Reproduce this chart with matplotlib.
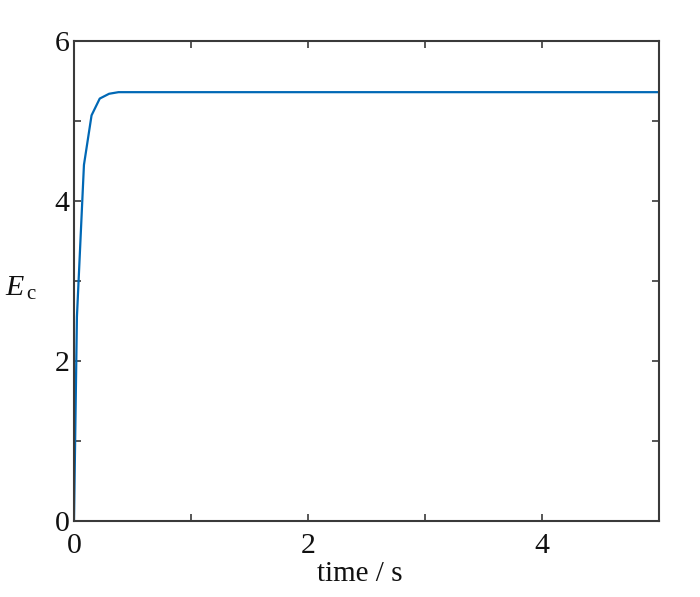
import matplotlib
matplotlib.use("Agg")
import matplotlib.pyplot as plt

time_s = [0, 0.025, 0.085, 0.15, 0.22, 0.30, 0.38, 0.5, 1, 2, 3, 4, 5]
E_c = [0, 2.55, 4.45, 5.07, 5.28, 5.34, 5.36, 5.36, 5.36, 5.36, 5.36, 5.36, 5.36]
x_ticks = [0, 1, 2, 3, 4, 5]
x_labels = ["0", "", "2", "", "4", ""]
y_ticks = [0, 1, 2, 3, 4, 5, 6]
y_labels = ["0", "", "2", "", "4", "", "6"]

plt.rcParams['font.family'] = ['Liberation Serif', 'DejaVu Serif']
plt.rcParams['mathtext.fontset'] = 'custom'
plt.rcParams['mathtext.rm'] = 'Liberation Serif'
plt.rcParams['mathtext.it'] = 'Liberation Serif:italic'

fig = plt.figure(figsize=(7.0, 5.97), dpi=100)
ax = fig.add_axes([74/700, (597-520.7)/597, (659-74)/700, (520.7-41)/597])
ax.plot(time_s, E_c, color='#0068B5', lw=1.6)
ax.set_xlim(0, 5)
ax.set_ylim(0, 6)
ax.set_xticks(x_ticks)
ax.set_xticklabels(x_labels)
ax.set_yticks(y_ticks)
ax.set_yticklabels(y_labels)
for s in ax.spines.values():
    s.set_color('#3a3a3a')
    s.set_linewidth(1.5)
ax.tick_params(direction='in', length=5, width=1.2, color='#3a3a3a',
               top=True, right=True, labelsize=21.5, labelcolor='#111111')
ax.tick_params(axis='x', pad=9)
ax.tick_params(axis='y', pad=3)
ax.set_xlabel('time / s', fontsize=21, color='#111111', va='top')
ax.xaxis.set_label_coords(0.488, -0.085)
ax.set_ylabel(r'$E_{\,\rm c}$', fontsize=21.5, rotation=0, color='#111111',
              va='center', ha='center')
ax.yaxis.set_label_coords(-0.09, 0.485)
fig.savefig('out.png', dpi=100)
